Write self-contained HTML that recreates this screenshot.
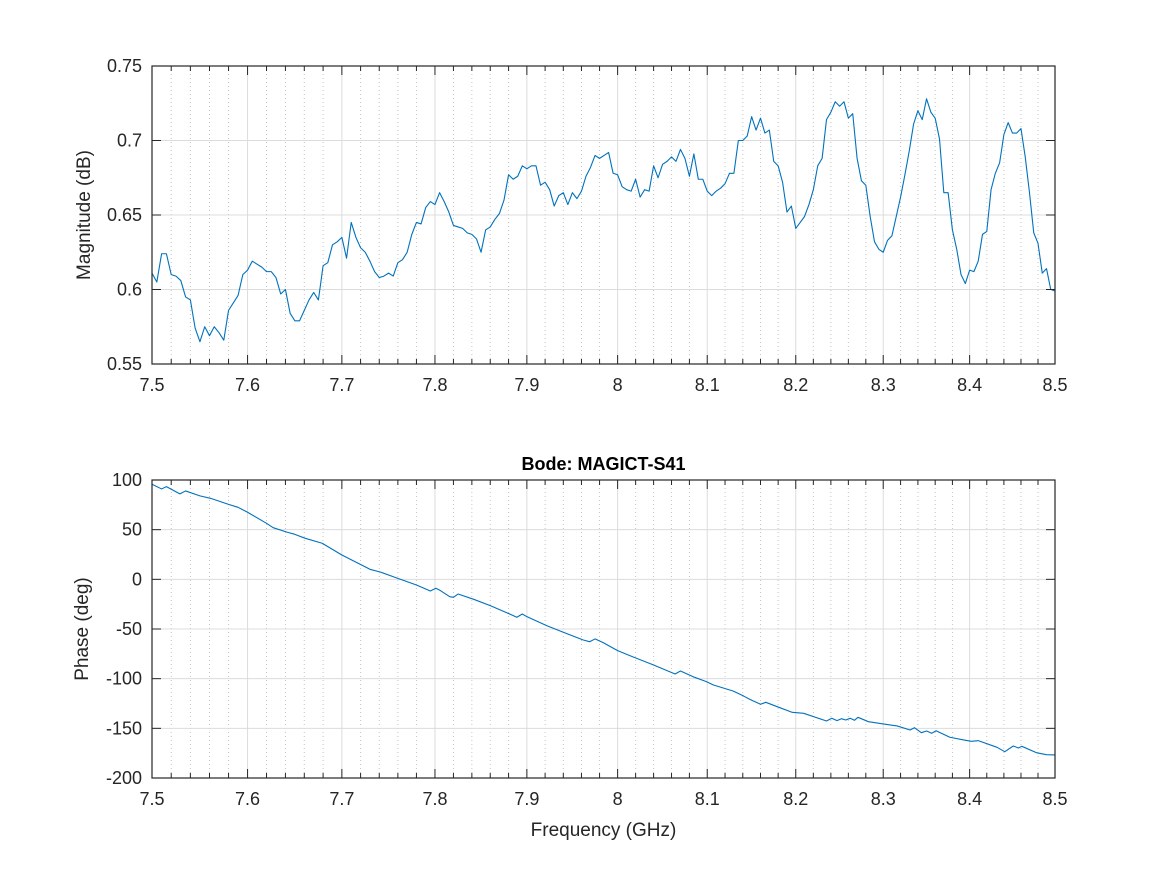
<!DOCTYPE html>
<html><head><meta charset="utf-8"><title>Bode: MAGICT-S41</title>
<style>
html,body{margin:0;padding:0;background:#fff;}
svg{display:block;font-family:"Liberation Sans",Arial,sans-serif;}
</style></head>
<body>
<svg id="fig" width="1167" height="875" viewBox="0 0 1167 875"></svg>
<script>
// ---- data ----
const magStart = 7.5;
const magStep = 0.005;
const magValues = [0.611,0.605,0.624,0.624,0.610,0.609,0.606,0.595,0.593,0.574,0.565,0.575,0.569,0.575,0.571,0.566,0.586,0.591,0.596,0.610,
0.613,0.619,0.617,0.615,0.612,0.612,0.608,0.597,0.600,0.584,0.579,0.579,0.586,0.593,0.598,0.593,0.616,0.618,0.630,0.632,
0.635,0.621,0.645,0.635,0.628,0.625,0.619,0.612,0.608,0.609,0.611,0.609,0.618,0.620,0.625,0.637,0.645,0.644,0.655,0.659,
0.657,0.665,0.659,0.652,0.643,0.642,0.641,0.638,0.637,0.634,0.625,0.640,0.642,0.647,0.651,0.660,0.677,0.674,0.676,0.683,
0.681,0.683,0.683,0.670,0.672,0.667,0.656,0.663,0.665,0.657,0.665,0.661,0.666,0.676,0.682,0.690,0.688,0.690,0.692,0.678,
0.677,0.669,0.667,0.666,0.674,0.662,0.667,0.666,0.683,0.675,0.684,0.686,0.689,0.686,0.694,0.688,0.676,0.691,0.674,0.674,
0.666,0.663,0.666,0.668,0.671,0.678,0.678,0.700,0.700,0.703,0.716,0.707,0.715,0.705,0.707,0.686,0.683,0.672,0.652,0.656,
0.641,0.645,0.649,0.657,0.667,0.683,0.688,0.714,0.719,0.726,0.723,0.726,0.715,0.718,0.688,0.673,0.670,0.649,0.632,0.627,
0.625,0.633,0.636,0.649,0.662,0.677,0.693,0.711,0.720,0.714,0.728,0.719,0.715,0.701,0.665,0.665,0.640,0.627,0.610,0.604,
0.613,0.612,0.619,0.637,0.639,0.667,0.678,0.685,0.704,0.712,0.705,0.705,0.708,0.689,0.665,0.638,0.631,0.611,0.614,0.600,0.599];
const phaseFreqs = [7.500,7.510,7.515,7.529,7.535,7.550,7.561,7.580,7.590,7.600,7.620,7.627,7.642,7.650,7.661,7.679,7.700,7.730,7.742,7.760,
7.780,7.795,7.801,7.806,7.816,7.820,7.825,7.842,7.860,7.878,7.889,7.895,7.900,7.922,7.940,7.962,7.969,7.975,7.984,8.000,
8.018,8.040,8.064,8.070,8.084,8.099,8.107,8.129,8.141,8.148,8.160,8.166,8.179,8.196,8.209,8.235,8.241,8.247,8.252,8.257,
8.262,8.267,8.271,8.283,8.300,8.316,8.331,8.336,8.344,8.350,8.356,8.361,8.377,8.393,8.402,8.410,8.432,8.441,8.451,8.457,
8.461,8.478,8.490,8.500];
const phaseValues = [95.7,91,93.3,86,89,84,81.6,75.5,72.5,67.5,56.4,52,47.4,45.3,41.3,36.3,24.5,10.1,7.1,1.0,
-5.7,-11.7,-9,-11.4,-17.5,-18.1,-14.8,-20.1,-26.5,-33.6,-38.2,-34.9,-37.6,-46.7,-53.3,-61.1,-62.8,-60,-63.7,-71.8,
-78.4,-86.2,-95.3,-92.3,-98,-103,-106.4,-112.4,-117.5,-120.8,-125.8,-123.8,-128.2,-133.9,-134.9,-142.6,-139.9,-142.3,-140.3,-141.6,
-139.9,-141.9,-138.9,-143.3,-145.6,-147.6,-151.7,-149.4,-154.4,-152.7,-155,-152.4,-159,-161.7,-163.1,-162.4,-169.1,-173.5,-167.8,-169.8,
-168.1,-174.5,-176.5,-176.8];
const xTickLabels = ["7.5","7.6","7.7","7.8","7.9","8","8.1","8.2","8.3","8.4","8.5"];
const xTicks = [7.5,7.6,7.7,7.8,7.9,8.0,8.1,8.2,8.3,8.4,8.5];
const magTicks = [0.55,0.6,0.65,0.7,0.75];
const magTickLabels = ["0.55","0.6","0.65","0.7","0.75"];
const phaseTicks = [-200,-150,-100,-50,0,50,100];
const phaseTickLabels = ["-200","-150","-100","-50","0","50","100"];

// ---- layout ----
const NS = "http://www.w3.org/2000/svg";
const svg = document.getElementById('fig');
const X0 = 152, X1 = 1055, FMIN = 7.5, FMAX = 8.5;
function xs(f){ return X0 + (Math.log(f/FMIN)/Math.log(FMAX/FMIN))*(X1-X0); }
function mk(tag, attrs, parent){ const e=document.createElementNS(NS,tag); for(const k in attrs) e.setAttribute(k,attrs[k]); (parent||svg).appendChild(e); return e; }

function drawAxes(name, top, bottom, vmin, vmax, ticks, tickLabels, fs, vs, ylabel, labelX){
  const ys = v => bottom - (v - vmin)/(vmax - vmin)*(bottom - top);
  const g = mk('g', {});
  
  
  mk('rect', {x:X0, y:top, width:X1-X0, height:bottom-top, fill:'#fff'}, g);
  // minor grid
  const minor = [];
  for (let i=0;i<=50;i++){ const f = +(7.5 + i*0.02).toFixed(2); if (Math.abs(f*10 - Math.round(f*10))>1e-6) minor.push(f); }
  minor.forEach(f => {
    const x = xs(f);
    const l = mk('line', {x1:x,x2:x,y1:top,y2:bottom,stroke:'#c4c4c4','stroke-width':1,'stroke-dasharray':'1 3'}, g);
    
    
  });
  // major grid
  xTicks.forEach(f => {
    const x = xs(f);
    const l = mk('line', {x1:x,x2:x,y1:top,y2:bottom,stroke:'#dcdcdc','stroke-width':1}, g);
    
    
  });
  ticks.forEach(v => {
    const y = ys(v);
    const l = mk('line', {x1:X0,x2:X1,y1:y,y2:y,stroke:'#dcdcdc','stroke-width':1}, g);
    
    
  });
  // series
  let d = '';
  fs.forEach((f,i) => { d += (i?'L':'M') + xs(f).toFixed(2) + ' ' + ys(vs[i]).toFixed(2); });
  const p = mk('path', {d:d, fill:'none', stroke:'#0072BD', 'stroke-width':1.1, 'stroke-linejoin':'round'}, g);
  
  
  // ticks
  minor.forEach(f => {
    const x = xs(f);
    mk('line', {x1:x,x2:x,y1:bottom,y2:bottom-5,stroke:'#262626','stroke-width':1}, g);
    mk('line', {x1:x,x2:x,y1:top,y2:top+5,stroke:'#262626','stroke-width':1}, g);
  });
  xTicks.forEach((f,i) => {
    const x = xs(f);
    mk('line', {x1:x,x2:x,y1:bottom,y2:bottom-9,stroke:'#262626','stroke-width':1}, g);
    mk('line', {x1:x,x2:x,y1:top,y2:top+9,stroke:'#262626','stroke-width':1}, g);
    const t = mk('text', {x:x, y:bottom+27, 'text-anchor':'middle', 'font-size':18, fill:'#262626'}, g);
    t.textContent = xTickLabels[i];
    
    
  });
  ticks.forEach((v,i) => {
    const y = ys(v);
    mk('line', {x1:X0,x2:X0+9,y1:y,y2:y,stroke:'#262626','stroke-width':1}, g);
    mk('line', {x1:X1,x2:X1-9,y1:y,y2:y,stroke:'#262626','stroke-width':1}, g);
    const t = mk('text', {x:142, y:y+6, 'text-anchor':'end', 'font-size':18, fill:'#262626'}, g);
    t.textContent = tickLabels[i];
    
    
  });
  mk('rect', {x:X0, y:top, width:X1-X0, height:bottom-top, fill:'none', stroke:'#262626', 'stroke-width':1.2}, g);
  const yl = mk('text', {x:labelX, y:(top+bottom)/2, transform:'rotate(-90 '+labelX+' '+(top+bottom)/2+')', 'text-anchor':'middle', 'font-size':19, fill:'#262626'}, g);
  yl.textContent = ylabel;
  
  
}

const magFreqs = magValues.map((v,i) => magStart + i*magStep);
drawAxes('magnitude', 66, 364, 0.55, 0.75, magTicks, magTickLabels, magFreqs, magValues, 'Magnitude (dB)', 90);
drawAxes('phase', 480, 778, -200, 100, phaseTicks, phaseTickLabels, phaseFreqs, phaseValues, 'Phase (deg)', 88);

const title = mk('text', {x:603.5, y:470, 'text-anchor':'middle', 'font-size':18, 'font-weight':'bold', fill:'#000'});
title.textContent = 'Bode: MAGICT-S41';


const xl = mk('text', {x:603.5, y:836, 'text-anchor':'middle', 'font-size':19, fill:'#262626'});
xl.textContent = 'Frequency (GHz)';


</script>
</body></html>
